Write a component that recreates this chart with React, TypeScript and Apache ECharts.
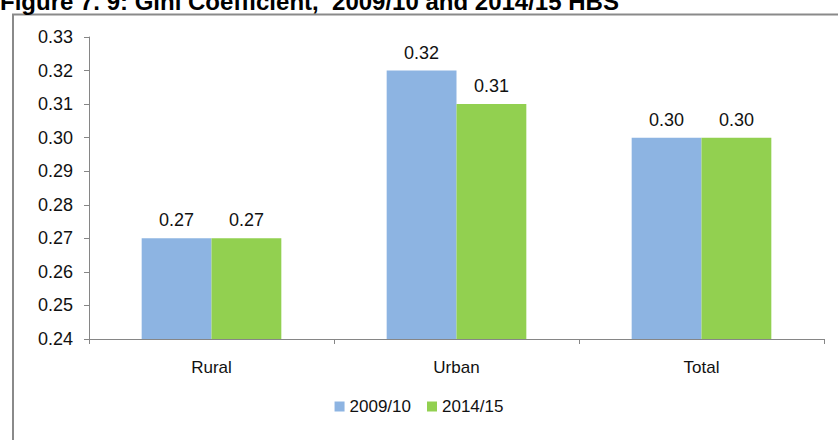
import React, { useEffect, useRef } from "react";
import * as echarts from "echarts";

const categories = ["Rural", "Urban", "Total"];
const series2009 = [0.27, 0.32, 0.3];
const series2014 = [0.27, 0.31, 0.3];
const seriesNames = ["2009/10", "2014/15"];
const titleText = "Figure 7. 9: Gini Coefficient,  2009/10 and 2014/15 HBS";

export default function App() {
  const ref = useRef<HTMLDivElement>(null);
  useEffect(() => {
    const chart = echarts.init(ref.current!, null, { renderer: "svg" });
    const font = "Liberation Sans, Arial, sans-serif";
    const labelCfg = {
      show: true,
      position: "top",
      distance: 9,
      color: "#111",
      fontSize: 18,
      fontFamily: font,
      formatter: (p: any) => Number(p.value).toFixed(2),
    };
    chart.setOption({
      animation: false,
      backgroundColor: "#fff",
      graphic: [
        {
          type: "rect",
          shape: { x: 13, y: 14.5, width: 900, height: 500 },
          style: { fill: "none", stroke: "#8a8a8a", lineWidth: 2 },
          silent: true,
        },
        {
          type: "text",
          x: 0,
          y: -11,
          style: {
            text: titleText,
            font: "bold 24px 'Liberation Sans', Arial, sans-serif",
            fill: "#000",
          },
        },
      ],
      legend: {
        bottom: 20,
        left: "center",
        itemWidth: 10,
        itemHeight: 10,
        itemGap: 16,
        icon: "rect",
        textStyle: { fontSize: 17, color: "#111", fontFamily: font },
        data: seriesNames,
      },
      grid: { left: 89, right: 14, top: 37, bottom: 101 },
      xAxis: {
        type: "category",
        data: categories,
        axisLine: { lineStyle: { color: "#868686" } },
        axisTick: { show: true, length: 5, lineStyle: { color: "#868686" } },
        axisLabel: { fontSize: 17, color: "#111", fontFamily: font, margin: 20 },
      },
      yAxis: {
        type: "value",
        min: 0.24,
        max: 0.33,
        interval: 0.01,
        axisLine: { show: true, lineStyle: { color: "#868686" } },
        axisTick: { show: true, length: 5, lineStyle: { color: "#868686" } },
        splitLine: { show: false },
        axisLabel: {
          fontSize: 18,
          color: "#111",
          fontFamily: font,
          margin: 16,
          formatter: (v: number) => v.toFixed(2),
        },
      },
      series: [
        {
          name: seriesNames[0],
          type: "bar",
          data: series2009,
          itemStyle: { color: "#8DB4E2" },
          barGap: "0%",
          barCategoryGap: "43%",
          label: labelCfg,
        },
        {
          name: seriesNames[1],
          type: "bar",
          data: series2014,
          itemStyle: { color: "#92D050" },
          barGap: "0%",
          barCategoryGap: "43%",
          label: labelCfg,
        },
      ],
    });
    return () => chart.dispose();
  }, []);
  return (
    <div
      ref={ref}
      style={{ position: "absolute", left: 0, top: 0, width: 838, height: 440 }}
    />
  );
}
